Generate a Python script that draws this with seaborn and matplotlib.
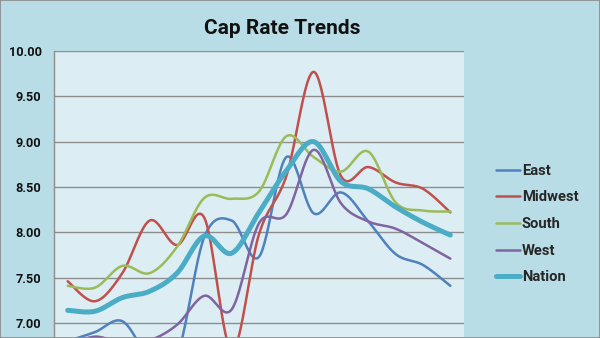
import numpy as np
import pandas as pd
import matplotlib
matplotlib.use("Agg")
import matplotlib.pyplot as plt
from matplotlib.patches import Rectangle
import seaborn as sns

# Quarterly cap rates (%) by region
periods = list(range(15))
east = [6.80, 6.90, 7.02, 6.63, 6.65, 7.95, 8.13, 7.73, 8.83, 8.21, 8.44, 8.12, 7.76, 7.64, 7.41]
midwest = [7.46, 7.24, 7.55, 8.13, 7.86, 8.16, 6.70, 7.98, 8.62, 9.77, 8.62, 8.72, 8.55, 8.48, 8.22]
south = [7.41, 7.39, 7.63, 7.55, 7.84, 8.38, 8.37, 8.45, 9.06, 8.83, 8.67, 8.89, 8.33, 8.24, 8.23]
west = [6.75, 6.85, 6.78, 6.81, 6.98, 7.30, 7.15, 8.10, 8.20, 8.91, 8.32, 8.12, 8.04, 7.88, 7.71]
nation = [7.14, 7.13, 7.28, 7.35, 7.55, 7.96, 7.77, 8.22, 8.68, 9.00, 8.56, 8.48, 8.28, 8.11, 7.97]

series_names = ["East", "Midwest", "South", "West", "Nation"]
series_values = [east, midwest, south, west, nation]
series_colors = ["#4F81BD", "#C0504D", "#9BBB59", "#8064A2", "#4BACC6"]
series_widths = [1.8, 1.8, 1.8, 1.8, 3.6]
y_min, y_max = 6.0, 10.0
y_ticks = [7.0, 7.5, 8.0, 8.5, 9.0, 9.5, 10.0]


def smooth(x, y, steps=30):
    """Catmull-Rom spline through the points (Bezier-style smoothed line)."""
    x = np.asarray(x, float)
    y = np.asarray(y, float)
    px = np.concatenate([[x[0]], x, [x[-1]]])
    py = np.concatenate([[y[0]], y, [y[-1]]])
    xs, ys = [], []
    t = np.linspace(0, 1, steps, endpoint=False)
    for i in range(1, len(px) - 2):
        p0x, p1x, p2x, p3x = px[i - 1:i + 3]
        p0y, p1y, p2y, p3y = py[i - 1:i + 3]
        c1x, c1y = p1x + (p2x - p0x) / 6, p1y + (p2y - p0y) / 6
        c2x, c2y = p2x - (p3x - p1x) / 6, p2y - (p3y - p1y) / 6
        b0, b1, b2, b3 = (1 - t) ** 3, 3 * (1 - t) ** 2 * t, 3 * (1 - t) * t ** 2, t ** 3
        xs.append(b0 * p1x + b1 * c1x + b2 * c2x + b3 * p2x)
        ys.append(b0 * p1y + b1 * c1y + b2 * c2y + b3 * p2y)
    xs.append([x[-1]])
    ys.append([y[-1]])
    return np.concatenate(xs), np.concatenate(ys)


sns.set_style("white")
plt.rcParams["font.family"] = ["Roboto", "DejaVu Sans"]

W, H = 600, 338
fig = plt.figure(figsize=(W / 100, H / 100), dpi=100)
outer_bg = "#B9DDE7"
fig.patch.set_facecolor(outer_bg)

# plot area: top at 10.00, extends below the bottom edge of the figure
px_per_unit = 90.67
top_px, left_px, right_px = 51, 54, 464
height_px = px_per_unit * (y_max - y_min)
ax = fig.add_axes([left_px / W, (H - top_px - height_px) / H,
                   (right_px - left_px) / W, height_px / H])
ax.set_facecolor("#DCEEF3")

for name, vals, col, lw in zip(series_names, series_values, series_colors, series_widths):
    sx, sy = smooth(periods, vals)
    df = pd.DataFrame({"period": sx, "rate": sy})
    sns.lineplot(data=df, x="period", y="rate", ax=ax, color=col, linewidth=lw,
                 sort=False, estimator=None, label=name,
                 solid_capstyle="round", solid_joinstyle="round")

ax.set_xlim(-0.5, 14.5)
ax.set_ylim(y_min, y_max)
ax.set_yticks(y_ticks)
ax.set_yticklabels([f"{v:.2f}" for v in y_ticks])
ax.set_xticks([])
ax.set_xlabel("")
ax.set_ylabel("")
# gridline below the visible tick range
ax.axhline(6.5, color="#8E8E8E", linewidth=1.0, zorder=0.5)
ax.yaxis.grid(True, color="#8E8E8E", linewidth=1.0)
ax.set_axisbelow(True)
for s in ["top", "right", "bottom"]:
    ax.spines[s].set_visible(False)
ax.spines["left"].set_color("#8E8E8E")
ax.spines["left"].set_linewidth(1.0)
ax.tick_params(axis="y", length=3, width=1.0, color="#8E8E8E", pad=6,
               labelsize=9.2, labelcolor="#111111")
for lab in ax.get_yticklabels():
    lab.set_fontweight("bold")

handles, labels = ax.get_legend_handles_labels()
ax.legend(handles, labels, loc="center left",
          bbox_to_anchor=(496 / W, 1 - 224 / H), bbox_transform=fig.transFigure,
          frameon=False, handlelength=1.6, handletextpad=0.15, labelspacing=0.86,
          borderaxespad=0, borderpad=0,
          prop={"family": ["Roboto", "DejaVu Sans"], "weight": "bold", "size": 10.6})

fig.text(282 / W, 1 - 29 / H, "Cap Rate Trends", ha="center", va="center",
         fontsize=15, fontweight="bold", color="#111111")

# thin frame around the whole chart
fig.patches.append(Rectangle((0, 0), 1, 1, transform=fig.transFigure, fill=False,
                             edgecolor="#8A8A8A", linewidth=1.2, zorder=10))

fig.savefig("out.png", dpi=100, facecolor=outer_bg)
